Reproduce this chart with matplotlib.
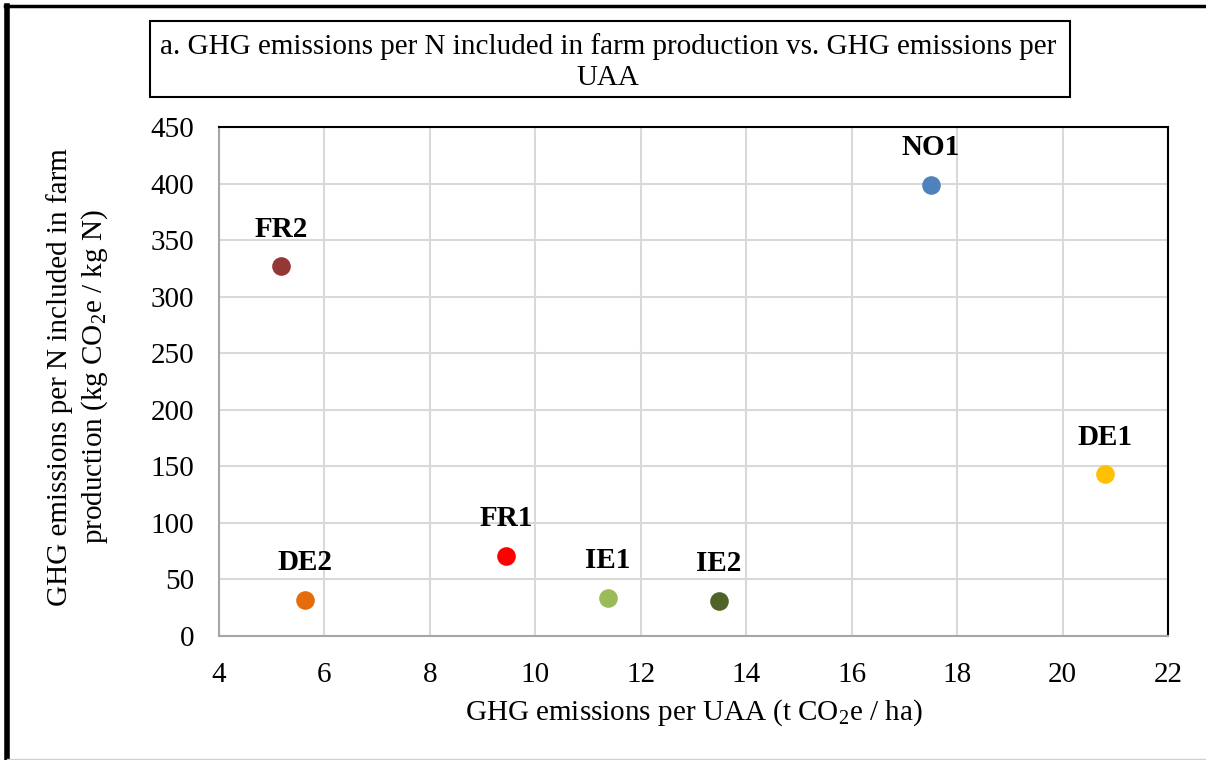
import matplotlib
matplotlib.use("Agg")
import matplotlib.pyplot as plt
from matplotlib.patches import Rectangle

plt.rcParams['font.family'] = ['Liberation Serif', 'DejaVu Serif']
plt.rcParams['mathtext.fontset'] = 'custom'
plt.rcParams['mathtext.rm'] = 'Liberation Serif'
plt.rcParams['mathtext.it'] = 'Liberation Serif:italic'
plt.rcParams['mathtext.bf'] = 'Liberation Serif:bold'

# farms: GHG per UAA (t CO2e/ha) vs GHG per N in farm production (kg CO2e/kg N)
farms = ["NO1", "FR2", "DE2", "FR1", "IE1", "IE2", "DE1"]
ghg_per_uaa = [17.5, 5.18, 5.63, 9.44, 11.38, 13.48, 20.8]
ghg_per_n = [399, 327, 32, 71, 34, 31, 143]
colors = ["#4F81BD", "#953735", "#E46C0A", "#FF0000", "#9BBB59", "#4F6228", "#FFC000"]

FS = 21

fig = plt.figure(figsize=(12.06, 7.6), dpi=100)
ax = fig.add_axes([219/1206, 1-636/760, (1168-219)/1206, (636-127)/760])

for name, x, y, c in zip(farms, ghg_per_uaa, ghg_per_n, colors):
    ax.scatter(x, y, s=180, color=c, zorder=3, linewidths=0)
    ax.annotate(name, (x, y), xytext=(0, 17), textcoords="offset points",
                ha="center", va="bottom", fontsize=FS, fontweight="bold")

ax.set_xlim(4, 22)
ax.set_ylim(0, 450)
ax.set_xticks(range(4, 23, 2))
ax.set_yticks(range(0, 451, 50))
ax.grid(True, color="#D9D9D9", linewidth=1.5)
ax.set_axisbelow(True)
ax.tick_params(length=0, labelsize=FS)
ax.tick_params(axis="y", pad=18)
ax.tick_params(axis="x", pad=19)
for side in ["top", "right"]:
    ax.spines[side].set_color("black")
    ax.spines[side].set_linewidth(1.5)
for side in ["left", "bottom"]:
    ax.spines[side].set_color("#A6A6A6")
    ax.spines[side].set_linewidth(1.5)

ax.set_xlabel("GHG emissions per UAA (t CO$_2$e / ha)", fontsize=FS, va="center")
ax.xaxis.set_label_coords(0.5, (636-713)/509)
ax.set_ylabel("GHG emissions per N included in farm\nproduction (kg CO$_2$e / kg N)",
              fontsize=FS, linespacing=1.25, va="center", ha="center")
ax.yaxis.set_label_coords((78-219)/949, (636-377)/509)

# title box
fig.patches.append(Rectangle((150/1206, 1-97/760), (1070-150)/1206, (97-21)/760,
                             transform=fig.transFigure, fill=False,
                             edgecolor="black", linewidth=1.5))
fig.text(608/1206, 1-62/760,
         "a. GHG emissions per N included in farm production vs. GHG emissions per\nUAA",
         ha="center", va="center", fontsize=FS, linespacing=1.25)

# outer frame
fig.add_artist(plt.Line2D([7/1206, 7/1206], [0, 1-6/760], transform=fig.transFigure,
                          color="black", linewidth=4))
fig.add_artist(plt.Line2D([5/1206, 1], [1-6/760, 1-6/760], transform=fig.transFigure,
                          color="black", linewidth=2.5))
fig.add_artist(plt.Line2D([7/1206, 1], [1-759/760, 1-759/760], transform=fig.transFigure,
                          color="#D0D0D0", linewidth=1))

fig.savefig("out.png", dpi=100)
